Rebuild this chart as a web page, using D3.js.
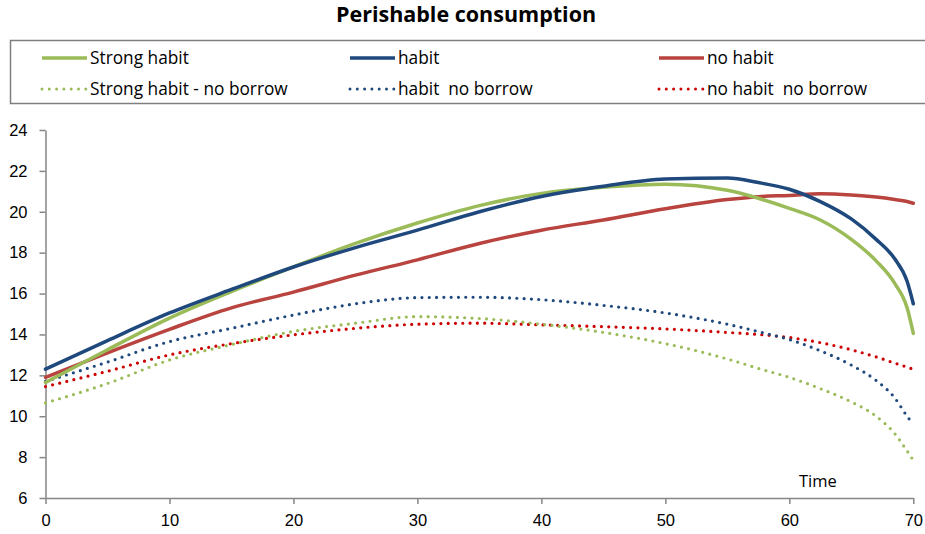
<!DOCTYPE html>
<html>
<head>
<meta charset="utf-8">
<script src="https://cdn.jsdelivr.net/npm/d3@7"></script>
<style>
  body { margin: 0; background: #fff; }
  svg { font-family: "Open Sans", Lato, sans-serif; }
  .axis path, .axis line { stroke: #868686; stroke-width: 1.5; }
  .axis text { font-size: 16.5px; fill: #000; }
  text { white-space: pre; }
</style>
</head>
<body>
<svg id="chart"></svg>
<script>
// time points and series values
const time = [0, 5, 10, 15, 20, 25, 30, 35, 40, 45, 50, 55, 57.5, 60, 62.5, 65, 67, 68.5, 69.5, 70];
const strongHabit = [11.65, 13.25, 14.8, 16.1, 17.3, 18.45, 19.45, 20.3, 20.9, 21.2, 21.35, 21.05, 20.66, 20.17, 19.6, 18.65, 17.6, 16.5, 15.3, 14.05];
const habit = [12.3, 13.7, 15.05, 16.2, 17.3, 18.25, 19.1, 20.0, 20.75, 21.25, 21.6, 21.65, 21.43, 21.1, 20.5, 19.65, 18.65, 17.7, 16.6, 15.5];
const noHabit = [11.9, 13.1, 14.25, 15.3, 16.07, 16.9, 17.65, 18.45, 19.1, 19.6, 20.15, 20.6, 20.74, 20.8, 20.88, 20.82, 20.72, 20.6, 20.5, 20.42];
const strongHabitNoBorrow = [10.65, 11.6, 12.75, 13.5, 14.15, 14.55, 14.87, 14.78, 14.5, 14.1, 13.55, 12.8, 12.34, 11.9, 11.35, 10.7, 10.0, 9.15, 8.3, 7.85];
const habitNoBorrow = [11.7, 12.65, 13.65, 14.3, 14.95, 15.5, 15.8, 15.82, 15.7, 15.42, 15.05, 14.5, 14.14, 13.75, 13.2, 12.5, 11.75, 10.9, 10.0, 9.6];
const noHabitNoBorrow = [11.45, 12.2, 13.0, 13.55, 13.98, 14.3, 14.5, 14.55, 14.47, 14.38, 14.27, 14.1, 14.0, 13.85, 13.6, 13.25, 12.9, 12.6, 12.4, 12.3];

const seriesNames = ['Strong habit', 'habit', 'no habit', 'Strong habit - no borrow', 'habit  no borrow', 'no habit  no borrow'];
const seriesValues = [strongHabit, habit, noHabit, strongHabitNoBorrow, habitNoBorrow, noHabitNoBorrow];
const seriesColors = ['#9bbb59', '#1f497d', '#b9443f', '#9bbb59', '#1f497d', '#cc0000'];
const seriesDotted = [false, false, false, true, true, true];

const xTicks = [0, 10, 20, 30, 40, 50, 60, 70];
const yTicks = [6, 8, 10, 12, 14, 16, 18, 20, 22, 24];

const width = 925, height = 534;
const margin = { top: 130, right: 11.7, bottom: 36, left: 45.5 };
const innerW = width - margin.left - margin.right;
const innerH = height - margin.top - margin.bottom;

const svg = d3.select('#chart').attr('width', width).attr('height', height);

svg.append('text')
  .attr('x', 466).attr('y', 21.5)
  .attr('text-anchor', 'middle')
  .style('font-size', '21.5px').style('font-weight', 'bold')
  .text('Perishable consumption');

// legend box
const legend = svg.append('g');
legend.append('rect')
  .attr('x', 10.5).attr('y', 40.5).attr('width', 925).attr('height', 63)
  .attr('fill', 'none').attr('stroke', '#7f7f7f').attr('stroke-width', 1.5);

const colX = [42, 350, 659];
const rowY = [58, 89];
seriesNames.forEach((name, i) => {
  const lx = colX[i % 3], ly = rowY[Math.floor(i / 3)];
  legend.append('line')
    .attr('x1', lx).attr('x2', lx + 45).attr('y1', ly).attr('y2', ly)
    .attr('stroke', seriesColors[i])
    .attr('stroke-width', seriesDotted[i] ? 3 : 3.5)
    .attr('stroke-linecap', seriesDotted[i] ? 'round' : 'butt')
    .attr('stroke-dasharray', seriesDotted[i] ? '0 7.3' : null);
  legend.append('text')
    .attr('x', lx + 48).attr('y', ly + 6)
    .style('font-size', '17.3px')
    .text(name);
});

const chart = svg.append('g').attr('transform', `translate(${margin.left},${margin.top})`);

const xScale = d3.scaleLinear().domain([0, 70]).range([0, innerW]);
const yScale = d3.scaleLinear().domain([6, 24]).range([innerH, 0]);

const xAxis = d3.axisBottom(xScale).tickValues(xTicks).tickSize(6).tickSizeOuter(0).tickPadding(10);
const yAxis = d3.axisLeft(yScale).tickValues(yTicks).tickSize(6).tickSizeOuter(0).tickPadding(12);

chart.append('g').attr('class', 'axis x-axis')
  .attr('transform', `translate(0,${innerH})`)
  .call(xAxis);
chart.append('g').attr('class', 'axis y-axis').call(yAxis);

const line = d3.line()
  .x(d => xScale(d.t))
  .y(d => yScale(d.v))
  .curve(d3.curveMonotoneX);

// dotted ones first, solid lines on top
const order = [5, 4, 3, 2, 0, 1];
order.forEach(i => {
  const pts = time.map((t, k) => ({ t: t, v: seriesValues[i][k] }));
  chart.append('path')
    .datum(pts)
    .attr('fill', 'none')
    .attr('stroke', seriesColors[i])
    .attr('stroke-width', seriesDotted[i] ? 3.2 : 3.5)
    .attr('stroke-linecap', 'round')
    .attr('stroke-linejoin', 'round')
    .attr('stroke-dasharray', seriesDotted[i] ? '0 7.3' : null)
    .attr('d', line);
});

chart.append('text')
  .attr('x', xScale(62.3)).attr('y', yScale(6.54))
  .attr('text-anchor', 'middle')
  .style('font-size', '16.5px')
  .text('Time');
</script>
</body>
</html>
